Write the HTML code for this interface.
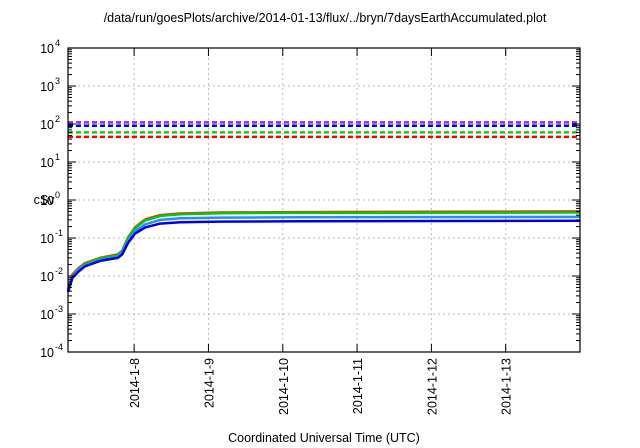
<!DOCTYPE html>
<html><head><meta charset="utf-8"><style>
html,body{margin:0;padding:0;background:#fff;}
svg{display:block;font-family:"Liberation Sans",sans-serif;}
</style></head><body>
<svg id="chart" width="640" height="448" viewBox="0 0 640 448" xmlns="http://www.w3.org/2000/svg">
<text x="325" y="22" font-size="12.5" text-anchor="middle" fill="#000">/data/run/goesPlots/archive/2014-01-13/flux/../bryn/7daysEarthAccumulated.plot</text>
<text x="44" y="204" font-size="12.5" text-anchor="middle" fill="#000">cSv</text>
<text x="324" y="442" font-size="12.5" text-anchor="middle" fill="#000">Coordinated Universal Time (UTC)</text>
<g id="grid"></g>
<g id="series"></g>
<g id="axes"></g>
</svg>
<script>
const yTickExps = [-4,-3,-2,-1,0,1,2,3,4];
const xTickDays = [8,9,10,11,12,13];
const xTickLabels = ["2014-1-8","2014-1-9","2014-1-10","2014-1-11","2014-1-12","2014-1-13"];
const times = [7.11,7.17,7.25,7.34,7.54,7.78,7.84,7.92,8.01,8.15,8.35,8.62,9.16,10.23,14.0];
const redVals = [0.0042,0.011,0.016,0.022,0.030,0.037,0.047,0.105,0.19,0.31,0.40,0.44,0.47,0.48,0.50];
const greenVals = [0.004,0.010,0.015,0.021,0.029,0.035,0.045,0.10,0.18,0.29,0.38,0.42,0.45,0.46,0.47];
const lightBlueVals = [0.0040,0.0095,0.014,0.019,0.026,0.032,0.040,0.085,0.15,0.23,0.30,0.33,0.345,0.35,0.36];
const blueVals = [0.0038,0.009,0.013,0.018,0.025,0.030,0.037,0.075,0.13,0.19,0.24,0.26,0.27,0.275,0.285];
const limitNames = ["purple-limit","blue-limit","green-limit","red-limit"];
const limitVals = [110,90,60,46];
const limitColors = ["#a020f0","#0000ff","#00dd00","#ff0000"];

const X0=68,X1=580,Y0=48,Y1=352, D0=7.11, D1=14.0;
const xs=d=>X0+(d-D0)/(D1-D0)*(X1-X0);
const ys=v=>200-Math.log10(v)*38;
const NS="http://www.w3.org/2000/svg";
function mk(tag,attrs,parent){const e=document.createElementNS(NS,tag);for(const k in attrs)e.setAttribute(k,attrs[k]);parent.appendChild(e);return e;}
const grid=document.getElementById('grid'),axes=document.getElementById('axes'),ser=document.getElementById('series');

yTickExps.forEach(e=>{
  const y=ys(Math.pow(10,e));
  if(e>-4&&e<4){const g=mk('line',{x1:X0,x2:X1,y1:y,y2:y,stroke:'#bbb','stroke-width':1,'stroke-dasharray':'2,3'},grid);
  
  }
  const t1=mk('line',{x1:X0,x2:X0+8,y1:y,y2:y,stroke:'#000'},axes);
  
  
  const t2=mk('line',{x1:X1-8,x2:X1,y1:y,y2:y,stroke:'#000'},axes);
  
  
  const tx=mk('text',{x:54,y:y+5,'font-size':12.5,'text-anchor':'end',fill:'#000'},axes);
  
  
  tx.textContent='10';
  const sp=mk('text',{x:55,y:y-2,'font-size':9,fill:'#000'},axes);
  
  
  sp.textContent=String(e);
  if(e<4){for(let m=2;m<10;m++){const ym=ys(m*Math.pow(10,e));
    const a=mk('line',{x1:X0,x2:X0+4,y1:ym,y2:ym,stroke:'#000'},axes);
    
    
    const b=mk('line',{x1:X1-4,x2:X1,y1:ym,y2:ym,stroke:'#000'},axes);
    
    }}
});
xTickDays.forEach((d,i)=>{
  const x=xs(d);
  const g=mk('line',{x1:x,x2:x,y1:Y0,y2:Y1,stroke:'#bbb','stroke-width':1,'stroke-dasharray':'2,3'},grid);
  
  
  const t=mk('line',{x1:x,x2:x,y1:Y1-8,y2:Y1,stroke:'#000'},axes);
  
  
  const t2=mk('line',{x1:x,x2:x,y1:Y0,y2:Y0+8,stroke:'#000'},axes);
  
  
  const tx=mk('text',{x:0,y:0,'font-size':12.5,'text-anchor':'end',fill:'#000',transform:`translate(${x+5},${Y1+6}) rotate(-90)`},axes);
  
  
  tx.textContent=xTickLabels[i];
});
const fr=mk('rect',{x:X0,y:Y0,width:X1-X0,height:Y1-Y0,fill:'none',stroke:'#000','stroke-width':1.2},axes);



limitVals.forEach((v,i)=>{
  const y=ys(v);
  const l=mk('line',{x1:X0,x2:X1,y1:y,y2:y,stroke:limitColors[i],'stroke-width':2.5,'stroke-dasharray':'5,3'},ser);
  
  
});
const seriesList=[["red-dose-line",redVals,"#ff2020"],["green-dose-line",greenVals,"#00cc00"],["light-blue-dose-line",lightBlueVals,"#2090ff"],["blue-dose-line",blueVals,"#0000ee"]];
seriesList.forEach(s=>{
  const pts=times.map((t,i)=>xs(t).toFixed(1)+','+ys(s[1][i]).toFixed(1)).join(' ');
  const p=mk('polyline',{points:pts,fill:'none',stroke:s[2],'stroke-width':2.5,'stroke-linejoin':'round'},ser);
  
  
});
</script>
</body></html>
